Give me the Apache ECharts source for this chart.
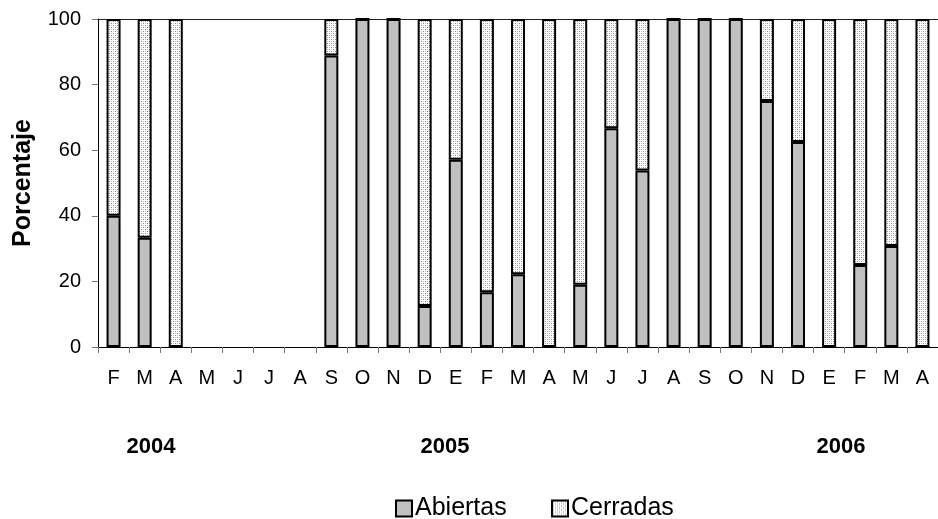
<!DOCTYPE html>
<html>
<head>
<meta charset="utf-8">
<script src="https://cdn.jsdelivr.net/npm/echarts@6/dist/echarts.min.js"></script>
<style>
  html, body { margin: 0; padding: 0; background: #fff; }
  #chart { width: 938px; height: 519px; }
</style>
</head>
<body>
<div id="chart"></div>
<script>
// Months from February 2004 to April 2006
const months = ['F','M','A','M','J','J','A','S','O','N','D','E','F','M','A','M','J','J','A','S','O','N','D','E','F','M','A'];
// Percentage of open and closed cases per month (null = no data)
const abiertas = [40, 33.3, 0, null, null, null, null, 88.9, 100, 100, 12.5, 57.1, 16.7, 22.2, 0, 19, 66.7, 53.8, 100, 100, 100, 75, 62.5, 0, 25, 30.8, 0];
const cerradas = [60, 66.7, 100, null, null, null, null, 11.1, 0, 0, 87.5, 42.9, 83.3, 77.8, 100, 81, 33.3, 46.2, 0, 0, 0, 25, 37.5, 100, 75, 69.2, 100];
const yTicks = [0, 20, 40, 60, 80, 100];
const years = ['2004', '2005', '2006'];

const FONT = '"Liberation Sans", Arial, sans-serif';

// Small dotted tile used as fill for the "Cerradas" segments
function dotTile() {
  const c = document.createElement('canvas');
  c.width = 4; c.height = 4;
  const g = c.getContext('2d');
  g.fillStyle = '#ffffff';
  g.fillRect(0, 0, 4, 4);
  g.fillStyle = '#8c8c8c';
  g.fillRect(1, 1, 1, 1);
  g.fillRect(3, 3, 1, 1);
  g.fillStyle = '#c4c4c4';
  g.fillRect(3, 1, 1, 1);
  g.fillRect(1, 3, 1, 1);
  return c;
}
const dotted = { image: dotTile(), repeat: 'repeat' };

const chart = echarts.init(document.getElementById('chart'), null, { renderer: 'canvas' });

const barBase = {
  type: 'bar',
  stack: 'total',
  barWidth: 14,
  xAxisIndex: 0,
  animation: false
};

const legendText = { fontFamily: FONT, fontSize: 25, color: '#000', padding: [0, 0, 0, -2] };

chart.setOption({
  backgroundColor: '#ffffff',
  animation: false,
  grid: { left: 98, top: 19, width: 840, height: 328, containLabel: false },
  legend: [
    {
      left: 390, top: 491,
      itemWidth: 16, itemHeight: 16, itemGap: 0,
      icon: 'rect',
      textStyle: legendText,
      data: [{ name: 'Abiertas', itemStyle: { color: '#c0c0c0', borderColor: '#000', borderWidth: 2 } }]
    },
    {
      left: 546, top: 491,
      itemWidth: 16, itemHeight: 16, itemGap: 0,
      icon: 'rect',
      textStyle: legendText,
      data: [{ name: 'Cerradas', itemStyle: { color: dotted, borderColor: '#000', borderWidth: 2 } }]
    }
  ],
  xAxis: [
    {
      type: 'category',
      data: months,
      position: 'bottom',
      boundaryGap: true,
      axisLine: { lineStyle: { color: '#000', width: 1 } },
      axisTick: { show: true, alignWithLabel: false, length: 6, lineStyle: { color: '#777', width: 1 } },
      axisLabel: { interval: 0, margin: 21, color: '#000', fontFamily: FONT, fontSize: 20 },
      splitLine: { show: false }
    },
    {
      // top edge line at 100 %
      type: 'category',
      data: months,
      position: 'top',
      axisLine: { show: true, lineStyle: { color: '#222', width: 1 } },
      axisTick: { show: false },
      axisLabel: { show: false },
      splitLine: { show: false }
    }
  ],
  yAxis: {
    type: 'value',
    min: 0, max: 100, interval: 20,
    name: 'Porcentaje',
    nameLocation: 'middle',
    nameGap: 62,
    nameTextStyle: { fontFamily: FONT, fontSize: 25, fontWeight: 'bold', color: '#000' },
    axisLine: { show: true, lineStyle: { color: '#000', width: 1 } },
    axisTick: { show: true, length: 6, lineStyle: { color: '#777', width: 1 } },
    axisLabel: {
      margin: 17, color: '#000', fontFamily: FONT, fontSize: 20,
      formatter: v => (yTicks.indexOf(v) >= 0 ? String(v) : '')
    },
    splitLine: { show: false }
  },
  series: [
    Object.assign({}, barBase, {
      name: 'Abiertas',
      data: abiertas,
      itemStyle: { color: '#c0c0c0', borderColor: '#000', borderWidth: 2 }
    }),
    Object.assign({}, barBase, {
      name: 'Cerradas',
      data: cerradas,
      itemStyle: { color: dotted, borderColor: '#000', borderWidth: 2 }
    })
  ],
  graphic: [
    { type: 'text', x: 151, y: 447, style: { text: years[0], fontFamily: FONT, fontSize: 22, fontWeight: 'bold', fill: '#000', align: 'center', verticalAlign: 'middle' } },
    { type: 'text', x: 445, y: 447, style: { text: years[1], fontFamily: FONT, fontSize: 22, fontWeight: 'bold', fill: '#000', align: 'center', verticalAlign: 'middle' } },
    { type: 'text', x: 841, y: 447, style: { text: years[2], fontFamily: FONT, fontSize: 22, fontWeight: 'bold', fill: '#000', align: 'center', verticalAlign: 'middle' } }
  ]
});
</script>
</body>
</html>
